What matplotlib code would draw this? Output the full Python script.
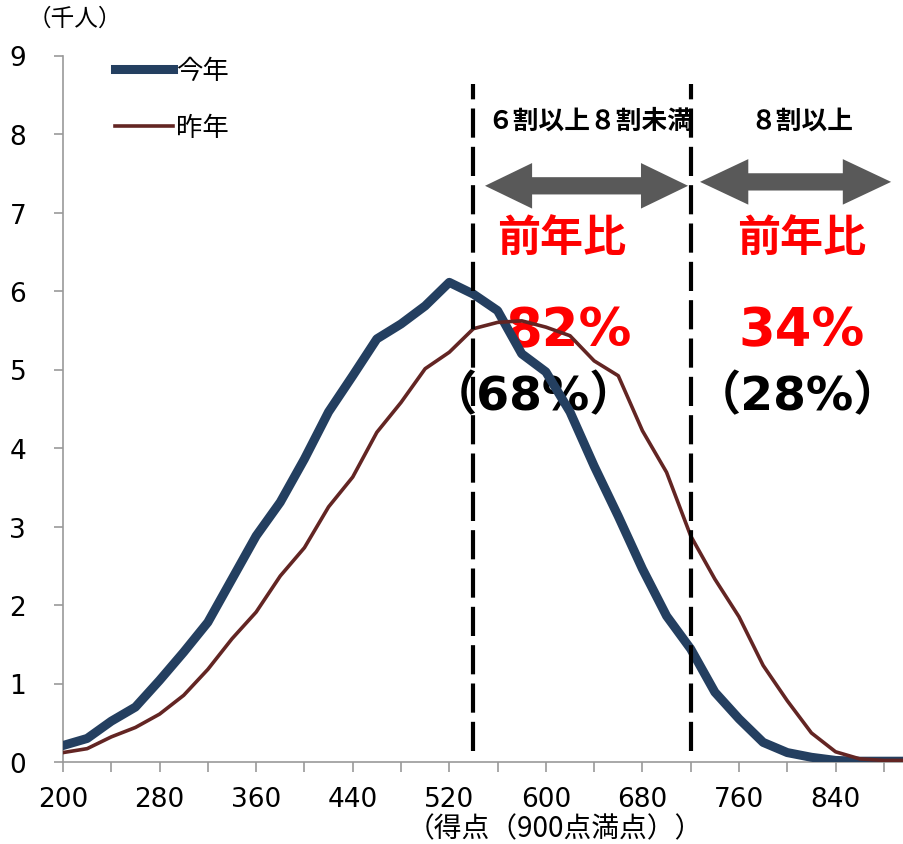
import matplotlib
matplotlib.use('Agg')
import matplotlib.pyplot as plt
from matplotlib.patches import Polygon

plt.rcParams['font.family'] = ['DejaVu Sans', 'Noto Sans CJK JP']

# score bins (900 point scale)
scores = [200, 220, 240, 260, 280, 300, 320, 340, 360, 380, 400, 420,
          440, 460, 480, 500, 520, 540, 560, 580, 600, 620, 640, 660,
          680, 700, 720, 740, 760, 780, 800, 820, 840, 860, 880, 900]
# thousands of people
this_year = [0.21, 0.30, 0.52, 0.70, 1.04, 1.40, 1.78, 2.33, 2.88, 3.31, 3.86, 4.46,
             4.92, 5.39, 5.58, 5.81, 6.11, 5.96, 5.75, 5.20, 4.97, 4.46, 3.77, 3.13,
             2.46, 1.86, 1.44, 0.89, 0.55, 0.25, 0.12, 0.06, 0.02, 0.01, 0.01, 0.01]
last_year = [0.12, 0.17, 0.32, 0.44, 0.61, 0.85, 1.18, 1.57, 1.91, 2.37, 2.73, 3.25,
             3.63, 4.20, 4.58, 5.01, 5.22, 5.52, 5.60, 5.62, 5.54, 5.43, 5.11, 4.92,
             4.22, 3.69, 2.88, 2.33, 1.85, 1.23, 0.78, 0.37, 0.13, 0.04, 0.02, 0.02]
series_names = ['今年', '昨年']

x_ticks = [200, 240, 280, 320, 360, 400, 440, 480, 520, 560, 600, 640, 680, 720, 760, 800, 840, 880]
x_ticklabels = ['200', '', '280', '', '360', '', '440', '', '520', '', '600', '', '680', '', '760', '', '840', '']
y_ticks = [0, 1, 2, 3, 4, 5, 6, 7, 8, 9]

bounds = [540, 720]            # 6割 and 8割 of 900
band_titles = ['６割以上８割未満', '８割以上']
band_ratio = ['82%', '34%']
band_ratio_sub = ['（68%）', '（28%）']

navy = '#243F60'
maroon = '#632523'
grey = '#999999'
cjk = ['Noto Sans CJK JP', 'DejaVu Sans']


def double_arrow(ax, x0, x1, y, shaft, head, head_len, color):
    # block arrow pointing both ways, as one polygon
    s, h = shaft / 2, head / 2
    pts = [(x0, y), (x0 + head_len, y + h), (x0 + head_len, y + s),
           (x1 - head_len, y + s), (x1 - head_len, y + h), (x1, y),
           (x1 - head_len, y - h), (x1 - head_len, y - s),
           (x0 + head_len, y - s), (x0 + head_len, y - h)]
    ax.add_patch(Polygon(pts, closed=True, color=color, lw=0, zorder=5))


fig = plt.figure(figsize=(9.04, 8.45), dpi=100)
ax = fig.add_axes([63/904, 82/845, 845/904, 706.5/845])

ax.plot(scores, this_year, color=navy, lw=6.5, label=series_names[0], zorder=3)
ax.plot(scores, last_year, color=maroon, lw=2.6, label=series_names[1], zorder=3)

ax.vlines(bounds, 0.14, 8.64, colors='black', linestyles=(0, (7, 2.2)), lw=3, zorder=4)

ax.set_xlim(200, 900)
ax.set_ylim(0, 9)
ax.set_xticks(x_ticks)
ax.set_xticklabels(x_ticklabels)
ax.set_yticks(y_ticks)
for s in ['top', 'right']:
    ax.spines[s].set_visible(False)
for s in ['left', 'bottom']:
    ax.spines[s].set_color(grey)
    ax.spines[s].set_linewidth(1.2)
ax.tick_params(axis='x', length=7, width=1.2, color=grey, labelsize=19, pad=10)
ax.tick_params(axis='y', length=6.5, width=1.2, color=grey, labelsize=19, pad=20)

double_arrow(ax, 549.6, 717.8, 7.34, 0.22, 0.58, 39, '#595959')
double_arrow(ax, 727.7, 886.0, 7.39, 0.22, 0.58, 40, '#595959')

title_x = [637, 812]
text_x = [613.4, 811.4]
for i in range(2):
    ax.text(title_x[i], 8.17, band_titles[i], ha='center', va='center', fontsize=18.5,
            fontweight='bold', family=cjk, zorder=1)
    ax.text(text_x[i], 6.69, '前年比', ha='center', va='center', fontsize=31,
            fontweight='bold', color='#FF0000', family=cjk, zorder=1)
    ax.text([619, 811.5][i], 5.50, band_ratio[i], ha='center', va='center', fontsize=38,
            fontweight='bold', color='#FF0000', zorder=1)
    ax.text([589.4, 808.5][i], 4.66, band_ratio_sub[i], ha='center', va='center', fontsize=34,
            fontweight='bold', color='black', zorder=1)

leg = ax.legend(loc='upper left', bbox_to_anchor=(115/904, 1 - 58/845),
                bbox_transform=fig.transFigure, frameon=False,
                handlelength=2.2, handletextpad=0.1, labelspacing=1.15,
                borderpad=0, borderaxespad=0, prop={'family': cjk, 'size': 19})

fig.text(75/904, 1 - 19/845, '（千人）', ha='center', va='center', fontsize=17, family=cjk)
fig.text(555/904, 1 - 829/845, '（得点（900点満点））', ha='center', va='center',
         fontsize=20, family=cjk)

fig.savefig('out.png', dpi=100)
